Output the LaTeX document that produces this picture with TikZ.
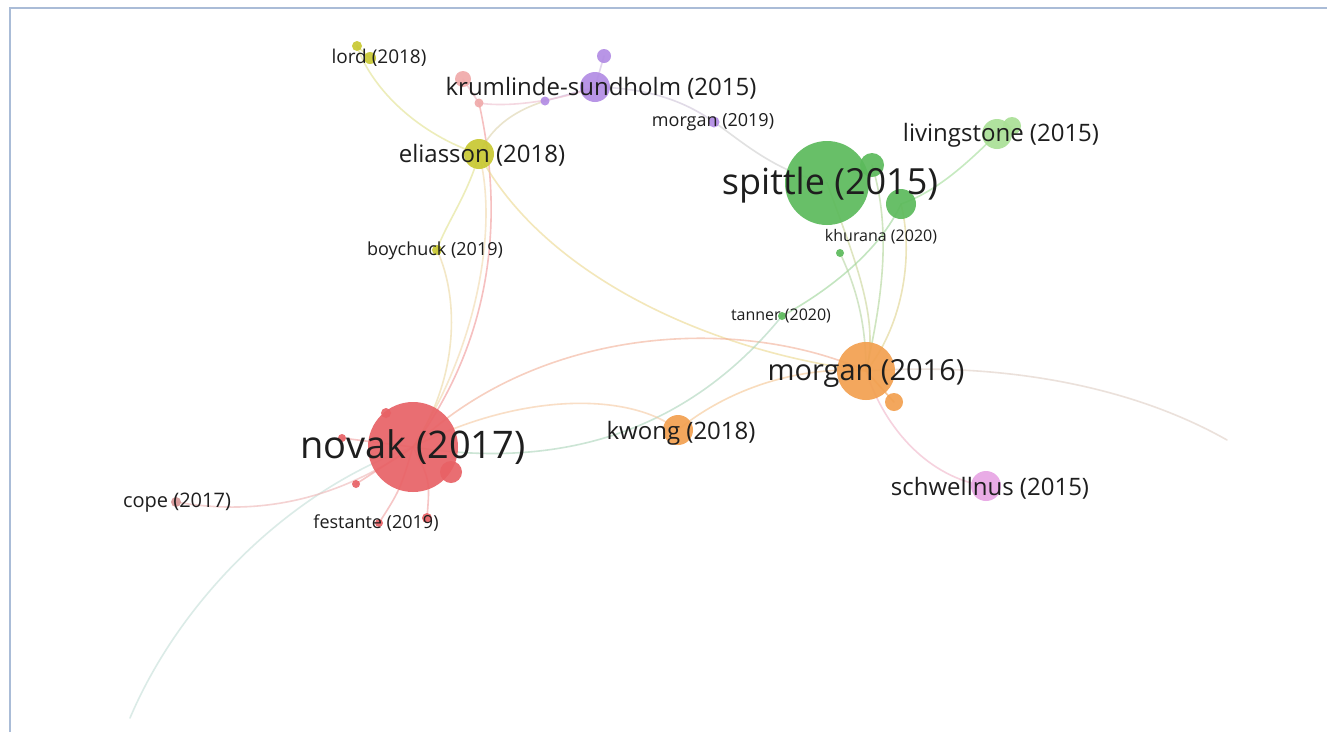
\documentclass[tikz,border=0pt]{standalone}
\usepackage{fontspec}
\setmainfont{Open Sans}
\usetikzlibrary{backgrounds}
\definecolor{cRed}{RGB}{232,98,102}
\definecolor{cGreen}{RGB}{92,186,92}
\definecolor{cLGreen}{RGB}{170,224,150}
\definecolor{cOrange}{RGB}{242,160,80}
\definecolor{cYellow}{RGB}{200,200,50}
\definecolor{cPurple}{RGB}{178,140,228}
\definecolor{cPink}{RGB}{232,165,228}
\definecolor{cSalmon}{RGB}{240,170,170}
\definecolor{cBorder}{RGB}{170,188,215}
\definecolor{cText}{RGB}{30,30,30}
\tikzset{
  dot/.style={circle, inner sep=0pt, draw=none, fill opacity=0.92},
  lbl/.style={text=cText, inner sep=0pt, anchor=center},
  edge/.style={line width=1.6pt, opacity=0.6, line cap=round},
}
\newcommand{\fs}[1]{\fontsize{#1}{#1}\selectfont}
\begin{document}
\begin{tikzpicture}[x=1pt,y=-1pt]
\useasboundingbox (0,0) rectangle (1327,732);
% ---- nodes (circles) ----
\node[dot, fill=cRed, minimum size=90] (novak) at (413,447) {};
\node[dot, fill=cRed, minimum size=10] (nvA) at (386,413) {};
\node[dot, fill=cRed, minimum size=22] (nvB) at (451,472) {};
\node[dot, fill=cRed, minimum size=8] (nvC) at (342,438) {};
\node[dot, fill=cRed, minimum size=8] (nvD) at (356,484) {};
\node[dot, fill=cRed, minimum size=10] (nvE) at (427,518) {};
\node[dot, fill=cRed, minimum size=8] (festante) at (379,523) {};
\node[dot, fill={rgb,255:red,215;green,150;blue,150}, minimum size=10] (cope) at (176,502) {};
\node[dot, fill=cGreen, minimum size=84] (spittle) at (827,183) {};
\node[dot, fill=cGreen, minimum size=24] (grA) at (872,165) {};
\node[dot, fill=cGreen, minimum size=30] (grB) at (901,204) {};
\node[dot, fill=cGreen, minimum size=8] (khurana) at (840,253) {};
\node[dot, fill=cGreen, minimum size=8] (tanner) at (782,316) {};
\node[dot, fill=cLGreen, minimum size=30] (livingstone) at (997,134) {};
\node[dot, fill=cLGreen, minimum size=18] (livB) at (1012,126) {};
\node[dot, fill=cOrange, minimum size=58] (morgan) at (866,371) {};
\node[dot, fill=cOrange, minimum size=18] (mgB) at (894,402) {};
\node[dot, fill=cOrange, minimum size=30] (kwong) at (678,430) {};
\node[dot, fill=cPink, minimum size=30] (schwellnus) at (986,486) {};
\node[dot, fill=cYellow, minimum size=30] (eliasson) at (479,154) {};
\node[dot, fill=cYellow, minimum size=10] (lordA) at (357,46) {};
\node[dot, fill=cYellow, minimum size=12] (lord) at (370,58) {};
\node[dot, fill=cYellow, minimum size=10] (boychuck) at (437,250) {};
\node[dot, fill=cPurple, minimum size=30] (krum) at (595,87) {};
\node[dot, fill=cPurple, minimum size=14] (prTop) at (604,56) {};
\node[dot, fill=cPurple, minimum size=9] (prS) at (545,101) {};
\node[dot, fill=cPurple, minimum size=11] (morganb) at (714,122) {};
\node[dot, fill=cSalmon, minimum size=16] (salA) at (463,79) {};
\node[dot, fill=cSalmon, minimum size=9] (salB) at (479,103) {};
\coordinate (offR) at (1227,440);
\coordinate (offBL) at (130,718);
% ---- edges ----
\begin{scope}[on background layer]
\fill[white] (0,0) rectangle (1327,732);
\draw[edge, color={rgb,255:red,225;green,225;blue,140}] (lordA.center) .. controls (372,90) and (420,135) .. (eliasson.center);
\draw[edge, color={rgb,255:red,225;green,225;blue,140}] (lordA.center) -- (lord.center);
\draw[edge, color={rgb,255:red,225;green,225;blue,140}] (eliasson.center) .. controls (468,195) and (445,225) .. (boychuck.center);
\draw[edge, color={rgb,255:red,235;green,215;blue,160}] (boychuck.center) .. controls (460,300) and (458,380) .. (novak.center);
\draw[edge, color={rgb,255:red,240;green,150;blue,150}] (salB.center) .. controls (505,220) and (492,340) .. (novak.center);
\draw[edge, color={rgb,255:red,240;green,215;blue,170}] (eliasson.center) .. controls (497,220) and (482,340) .. (novak.center);
\draw[edge, color={rgb,255:red,235;green,215;blue,140}] (eliasson.center) .. controls (540,270) and (700,350) .. (morgan.center);
\draw[edge, color={rgb,255:red,242;green,175;blue,150}] (novak.center) .. controls (540,325) and (740,315) .. (morgan.center);
\draw[edge, color={rgb,255:red,222;green,205;blue,195}] (morgan.center) .. controls (1000,362) and (1130,385) .. (offR);
\draw[edge, color={rgb,255:red,195;green,222;blue,215}] (novak.center) .. controls (290,490) and (180,600) .. (offBL);
\draw[edge, color={rgb,255:red,238;green,180;blue,180}] (novak.center) .. controls (330,505) and (250,515) .. (cope.center);
\draw[edge, color={rgb,255:red,205;green,195;blue,215}] (krum.center) .. controls (655,88) and (690,105) .. (morganb.center);
\draw[edge, color={rgb,255:red,205;green,205;blue,205}] (morganb.center) .. controls (740,140) and (775,172) .. (spittle.center);
\draw[edge, color={rgb,255:red,205;green,185;blue,225}] (krum.center) -- (prS.center);
\draw[edge, color={rgb,255:red,220;green,210;blue,170}] (prS.center) .. controls (510,112) and (490,130) .. (eliasson.center);
\draw[edge, color={rgb,255:red,238;green,180;blue,190}] (salA.center) -- (salB.center);
\draw[edge, color={rgb,255:red,238;green,190;blue,205}] (salB.center) .. controls (510,108) and (560,100) .. (krum.center);
\draw[edge, color={rgb,255:red,205;green,185;blue,225}] (prTop.center) -- (krum.center);
\draw[edge, color={rgb,255:red,160;green,220;blue,150}] (grB.center) .. controls (940,190) and (970,160) .. (livingstone.center);
\draw[edge, color={rgb,255:red,200;green,212;blue,150}] (spittle.center) .. controls (855,260) and (880,320) .. (morgan.center);
\draw[edge, color={rgb,255:red,222;green,210;blue,140}] (grB.center) .. controls (915,260) and (900,330) .. (morgan.center);
\draw[edge, color={rgb,255:red,175;green,212;blue,150}] (grA.center) .. controls (892,230) and (882,300) .. (morgan.center);
\draw[edge, color={rgb,255:red,155;green,212;blue,150}] (grB.center) .. controls (880,250) and (830,290) .. (tanner.center);
\draw[edge, color={rgb,255:red,170;green,212;blue,185}] (tanner.center) .. controls (720,392) and (610,478) .. (novak.center);
\draw[edge, color={rgb,255:red,180;green,212;blue,160}] (khurana.center) .. controls (855,285) and (866,320) .. (morgan.center);
\draw[edge, color={rgb,255:red,245;green,200;blue,160}] (novak.center) .. controls (520,392) and (630,392) .. (kwong.center);
\draw[edge, color={rgb,255:red,245;green,198;blue,145}] (kwong.center) .. controls (720,395) and (790,365) .. (morgan.center);
\draw[edge, color={rgb,255:red,240;green,180;blue,200}] (morgan.center) .. controls (885,430) and (930,478) .. (schwellnus.center);
\draw[edge, color=cOrange] (mgB.center) -- (morgan.center);
\draw[edge, color=cLGreen] (livB.center) -- (livingstone.center);
\draw[edge, color={rgb,255:red,240;green,160;blue,160}] (novak.center) -- (nvC.center);
\draw[edge, color={rgb,255:red,240;green,160;blue,160}] (novak.center) -- (nvD.center);
\draw[edge, color={rgb,255:red,240;green,160;blue,160}] (novak.center) .. controls (430,480) .. (nvE.center);
\draw[edge, color={rgb,255:red,240;green,160;blue,160}] (novak.center) .. controls (400,490) .. (festante.center);
\end{scope}
% ---- border ----
\draw[cBorder, line width=1.5pt] (10,732) -- (10,8) -- (1327,8);
% ---- labels ----
\node[lbl, font=\fs{38}] (novakL) at (413,447) {novak (2017)};
\node[lbl, font=\fs{36}] (spittleL) at (830,185) {spittle (2015)};
\node[lbl, font=\fs{29}] (morganL) at (866,373) {morgan (2016)};
\node[lbl, font=\fs{24}] (kwongL) at (681,433) {kwong (2018)};
\node[lbl, font=\fs{24}] (schwellnusL) at (990,488) {schwellnus (2015)};
\node[lbl, font=\fs{24}] (livingstoneL) at (1001,135) {livingstone (2015)};
\node[lbl, font=\fs{24}] (krumL) at (601,88) {krumlinde-sundholm (2015)};
\node[lbl, font=\fs{24}] (eliassonL) at (482,155) {eliasson (2018)};
\node[lbl, font=\fs{19}] (lordL) at (379,58) {lord (2018)};
\node[lbl, font=\fs{20}] (copeL) at (177,503) {cope (2017)};
\node[lbl, font=\fs{18}] (festanteL) at (376,523) {festante (2019)};
\node[lbl, font=\fs{18}] (boychuckL) at (435,251) {boychuck (2019)};
\node[lbl, font=\fs{18}] (morganbL) at (713,122) {morgan (2019)};
\node[lbl, font=\fs{16}] (khuranaL) at (881,237) {khurana (2020)};
\node[lbl, font=\fs{16}] (tannerL) at (781,316) {tanner (2020)};
\end{tikzpicture}
\end{document}
